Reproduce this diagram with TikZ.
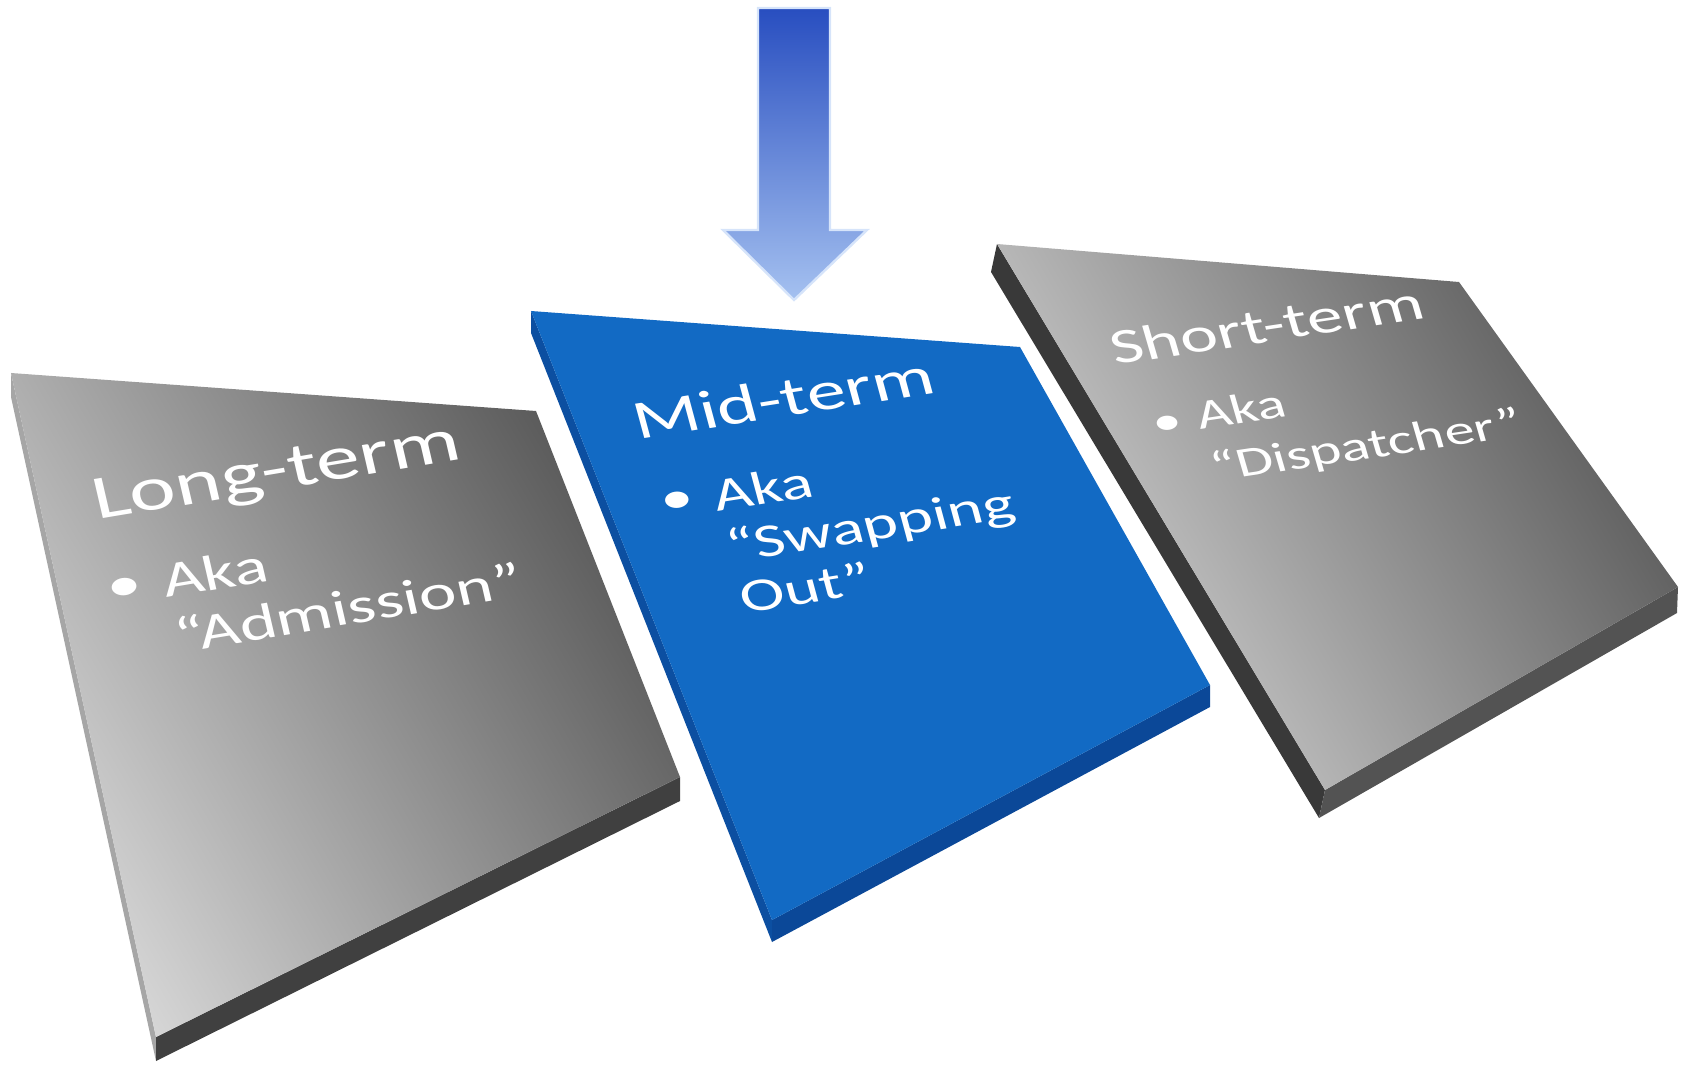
\documentclass[tikz,border=0pt]{standalone}
\usepackage{fontspec}
\setmainfont{Carlito}
\usetikzlibrary{positioning}

\definecolor{slabblue}{RGB}{18,106,196}
\definecolor{slabbluedark}{RGB}{11,72,152}
\definecolor{slablight}{RGB}{214,214,214}
\definecolor{slabdark}{RGB}{88,88,88}
\definecolor{sidegray}{RGB}{64,64,64}
\definecolor{arrowtop}{RGB}{40,78,192}
\definecolor{arrowbot}{RGB}{165,193,240}
\definecolor{arrowglow}{RGB}{214,228,250}

\tikzset{
  headtext/.style={anchor=base west, inner sep=0pt, text=white},
  bodytext/.style={anchor=base west, inner sep=0pt, text=white},
  bulletdot/.style={inner sep=0pt, text=white},
  % text lying on each slab
  leftplane/.style={cm={0.986,0.165,-0.160,0.690,(0,0)}},
  midplane/.style={cm={0.988,0.156,-0.185,0.685,(0,0)}},
  rightplane/.style={cm={0.989,0.148,-0.198,0.680,(0,0)}}
}

\begin{document}
\begin{tikzpicture}[x=0.5pt, y=-0.5pt]
    \useasboundingbox (0,0) rectangle (1682,1075);

    % Long-term slab
    \fill[gray!70] (11,373) -- (156,1037) -- (156,1061) -- (11,397) -- cycle;
    \fill[sidegray] (156,1037) -- (680,777) -- (680,801) -- (156,1061) -- cycle;
    \shade[top color=slabdark, bottom color=slablight, shading angle=-60]
        (11,373) -- (536,411) -- (680,777) -- (156,1037) -- cycle;

    % Short-term slab
    \fill[gray!45!black] (997,244) -- (1325,790) -- (1319,818) -- (991,272) -- cycle;
    \fill[sidegray!90!white] (1325,790) -- (1678,587) -- (1677,613) -- (1319,818) -- cycle;
    \shade[top color=slabdark, bottom color=slablight, shading angle=-60]
        (997,244) -- (1459,282) -- (1678,587) -- (1325,790) -- cycle;

    % Mid-term slab
    \fill[slabbluedark!80!slabblue] (531,311) -- (772,920) -- (772,942) -- (531,333) -- cycle;
    \fill[slabbluedark] (772,920) -- (1210,685) -- (1210,707) -- (772,942) -- cycle;
    \fill[slabblue] (531,311) -- (1020,347) -- (1210,685) -- (772,920) -- cycle;

    % arrow
    \shade[top color=arrowtop, bottom color=arrowbot, draw=arrowglow, line width=1.2pt]
        (758,8) -- (830,8) -- (830,230) -- (867,230) -- (794,300)
        -- (723,230) -- (758,230) -- cycle;

    \node[headtext, leftplane, font=\fontsize{44}{50}\selectfont] (longhead) at (97,520) {Long-term};
    \node[bulletdot, leftplane, font=\fontsize{35}{40}\selectfont] (longdot) at (125,590) {\textbullet};
    \node[bodytext, leftplane, font=\fontsize{35.5}{40}\selectfont] (longbody) at (166,598)
        {\begin{tabular}[t]{@{}l@{}}Aka\\``Admission''\end{tabular}};

    \node[headtext, midplane, font=\fontsize{39}{45}\selectfont] (midhead) at (638,440) {Mid-term};
    \node[bulletdot, midplane, font=\fontsize{33}{37}\selectfont] (middot) at (678,503) {\textbullet};
    \node[bodytext, midplane, font=\fontsize{33.5}{37}\selectfont] (midbody) at (717,512)
        {\begin{tabular}[t]{@{}l@{}}Aka\\``Swapping\\Out''\end{tabular}};

    \node[headtext, rightplane, font=\fontsize{35.5}{41}\selectfont] (shorthead) at (1115,365) {Short-term};
    \node[bulletdot, rightplane, font=\fontsize{29}{37}\selectfont] (shortdot) at (1168,425) {\textbullet};
    \node[bodytext, rightplane, font=\fontsize{30}{38}\selectfont] (shortbody) at (1200,430)
        {\begin{tabular}[t]{@{}l@{}}Aka\\``Dispatcher''\end{tabular}};
\end{tikzpicture}
\end{document}
